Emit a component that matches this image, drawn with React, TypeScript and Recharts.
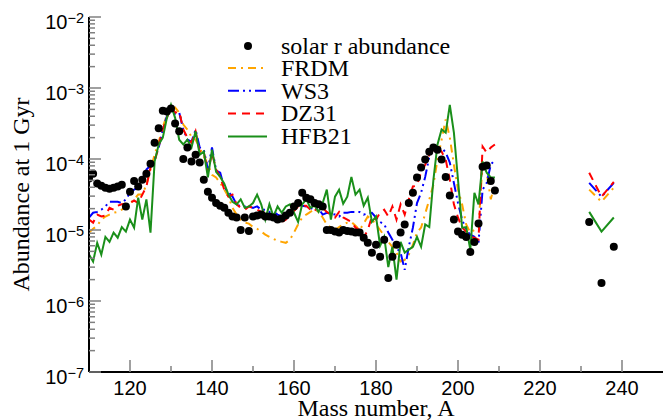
import React from 'react'
import { ComposedChart, Line, XAxis, YAxis } from 'recharts'

// mass numbers A; the models stop at 209 and come back for 232-238
const massNumbers = [
  110, 111, 112, 113, 114, 115, 116, 117, 118, 119,
  120, 121, 122, 123, 124, 125, 126, 127, 128, 129,
  130, 131, 132, 133, 134, 135, 136, 137, 138, 139,
  140, 141, 142, 143, 144, 145, 146, 147, 148, 149,
  150, 151, 152, 153, 154, 155, 156, 157, 158, 159,
  160, 161, 162, 163, 164, 165, 166, 167, 168, 169,
  170, 171, 172, 173, 174, 175, 176, 177, 178, 179,
  180, 181, 182, 183, 184, 185, 186, 187, 188, 189,
  190, 191, 192, 193, 194, 195, 196, 197, 198, 199,
  200, 201, 202, 203, 204, 205, 206, 207, 208, 209,
  232, 235, 238,
]

const solarR = [
  5.3e-5, 6.2e-5, 4.5e-5, 4.2e-5, 3.95e-5, 3.8e-5, 3.95e-5, 4.1e-5, 4.35e-5, 2.15e-5,
  3.45e-5, 4.9e-5, 4.1e-5, 5.1e-5, 6.2e-5, 8.6e-5, 1.7e-4, 2.7e-4, 4.8e-4, 4.65e-4,
  5.15e-4, 3.15e-4, 2.45e-4, 1.0e-4, 1.45e-4, 9.2e-5, 1.15e-4, 8.9e-5, 5.1e-5, 3.45e-5,
  2.85e-5, 2.4e-5, 2.2e-5, 2.05e-5, 1.75e-5, 1.55e-5, 1.5e-5, 1.0e-5, 1.5e-5, 9.7e-6,
  1.55e-5, 1.6e-5, 1.65e-5, 1.55e-5, 1.55e-5, 1.5e-5, 1.4e-5, 1.45e-5, 1.6e-5, 1.75e-5,
  2.15e-5, 2.4e-5, 3.35e-5, 2.85e-5, 2.7e-5, 2.4e-5, 2.3e-5, 2.15e-5, 1.0e-5, 1.0e-5,
  9.5e-6, 9.2e-6, 1.0e-5, 9.7e-6, 9.5e-6, 9.2e-6, 9.2e-6, 7.8e-6, 6.6e-6, 4.8e-6,
  6.2e-6, 4.2e-6, 7.3e-6, 2.1e-6, 4.2e-6, 6.2e-6, 9.2e-6, 1.2e-5, 2.4e-5, 3.35e-5,
  5.5e-5, 7.6e-5, 9.8e-5, 1.27e-4, 1.45e-4, 1.35e-4, 9.8e-5, 5.6e-5, 3.05e-5, 1.4e-5,
  9.5e-6, 8.6e-6, 8.0e-6, 4.9e-6, 6.8e-6, 1.23e-5, 7.8e-5, 8.1e-5, 4.9e-5, 3.6e-5,
  1.3e-5, 1.8e-6, 5.8e-6,
]

const frdm = [
  9.2e-6, 1.04e-5, 1.15e-5, 1.4e-5, 1.55e-5, 1.65e-5, 1.75e-5, 1.8e-5, 1.93e-5, 2.15e-5,
  2.35e-5, 2.7e-5, 3.15e-5, 3.15e-5, 4.35e-5, 7.1e-5, 1.15e-4, 1.75e-4, 2.8e-4, 4.2e-4,
  5.0e-4, 5.3e-4, 4.5e-4, 3.05e-4, 2.6e-4, 2.05e-4, 1.87e-4, 1.45e-4, 1.08e-4, 8.3e-5,
  6.0e-5, 5.5e-5, 4.6e-5, 3.7e-5, 2.95e-5, 2.05e-5, 1.65e-5, 1.4e-5, 1.27e-5, 1.23e-5,
  1.1e-5, 1.04e-5, 9.5e-6, 8.6e-6, 8.0e-6, 7.5e-6, 7.0e-6, 6.8e-6, 6.6e-6, 7.3e-6,
  9.2e-6, 1.2e-5, 1.5e-5, 1.65e-5, 1.8e-5, 1.93e-5, 1.8e-5, 1.5e-5, 1.2e-5, 1.08e-5,
  1.0e-5, 1.1e-5, 1.2e-5, 1.27e-5, 1.3e-5, 1.15e-5, 1.0e-5, 1.23e-5, 1.55e-5, 1.4e-5,
  1.2e-5, 1.0e-5, 8.3e-6, 6.8e-6, 5.8e-6, 4.8e-6, 3.6e-6, 3.8e-6, 4.5e-6, 6.2e-6,
  9.2e-6, 1.08e-5, 1.7e-5, 2.7e-5, 4.35e-5, 9.8e-5, 1.87e-4, 3.6e-4, 2.0e-4, 8.3e-5,
  3.7e-5, 2.3e-5, 1.2e-5, 9.2e-6, 1.0e-5, 1.08e-5, 8.9e-5, 6.4e-5, 2.7e-5, 4.6e-5,
  3.7e-5, 2.5e-5, 3.95e-5,
]

const ws3 = [
  1.5e-5, 1.75e-5, 1.8e-5, 1.93e-5, 2.15e-5, 2.5e-5, 2.5e-5, 2.5e-5, 2.4e-5, 2.7e-5,
  3.35e-5, 3.7e-5, 3.95e-5, 4.6e-5, 7.1e-5, 8.1e-5, 9.8e-5, 1.45e-4, 2.6e-4, 4.0e-4,
  5.3e-4, 4.35e-4, 4.5e-4, 2.6e-4, 1.87e-4, 1.75e-4, 2.6e-4, 1.45e-4, 1.35e-4, 7.1e-5,
  1.45e-4, 6.9e-5, 6.4e-5, 3.95e-5, 3.45e-5, 2.95e-5, 2.3e-5, 2.15e-5, 2.15e-5, 2.15e-5,
  2.05e-5, 2.15e-5, 1.93e-5, 1.93e-5, 1.8e-5, 1.8e-5, 1.65e-5, 1.55e-5, 1.7e-5, 1.93e-5,
  2.15e-5, 2.3e-5, 2.2e-5, 2.15e-5, 2.05e-5, 1.93e-5, 2.0e-5, 1.65e-5, 1.75e-5, 1.7e-5,
  1.65e-5, 1.55e-5, 1.75e-5, 1.75e-5, 1.8e-5, 1.8e-5, 1.8e-5, 1.65e-5, 1.7e-5, 1.75e-5,
  1.5e-5, 1.3e-5, 1.2e-5, 9.2e-6, 7.3e-6, 5.6e-6, 4.8e-6, 2.75e-6, 5.8e-6, 1.08e-5,
  2.4e-5, 3.35e-5, 5.6e-5, 1.08e-4, 1.5e-4, 1.35e-4, 1.45e-4, 1.23e-4, 8.9e-5, 4.6e-5,
  2.4e-5, 1.4e-5, 1.0e-5, 8.6e-6, 8.0e-6, 6.6e-6, 3.7e-5, 4.6e-5, 8.3e-5, 9.8e-5,
  4.6e-5, 2.95e-5, 4.6e-5,
]

const dz31 = [
  1.4e-5, 1.27e-5, 1.65e-5, 1.55e-5, 1.6e-5, 2.05e-5, 1.93e-5, 2.2e-5, 2.3e-5, 2.35e-5,
  2.4e-5, 2.6e-5, 2.4e-5, 3.15e-5, 4.1e-5, 7.6e-5, 9.2e-5, 1.5e-4, 2.6e-4, 3.8e-4,
  5.5e-4, 4.5e-4, 4.65e-4, 2.6e-4, 2.0e-4, 1.7e-4, 2.45e-4, 1.27e-4, 1.27e-4, 6.4e-5,
  1.23e-4, 7.1e-5, 5.6e-5, 3.7e-5, 2.95e-5, 3.15e-5, 2.3e-5, 2.05e-5, 1.93e-5, 2.15e-5,
  2.05e-5, 1.93e-5, 1.8e-5, 1.75e-5, 1.65e-5, 1.55e-5, 1.4e-5, 1.3e-5, 1.4e-5, 1.65e-5,
  1.85e-5, 2.15e-5, 2.2e-5, 2.2e-5, 1.93e-5, 1.8e-5, 2.3e-5, 2.05e-5, 1.8e-5, 1.65e-5,
  1.5e-5, 1.8e-5, 1.5e-5, 1.4e-5, 1.3e-5, 1.08e-5, 1.0e-5, 7.8e-6, 1.0e-5, 1.55e-5,
  1.4e-5, 1.75e-5, 1.93e-5, 1.55e-5, 2.15e-5, 1.4e-5, 2.3e-5, 1.65e-5, 2.7e-5, 4.1e-5,
  4.2e-5, 6.6e-5, 8.3e-5, 1.15e-4, 1.35e-4, 1.45e-4, 1.27e-4, 9.8e-5, 5.1e-5, 2.3e-5,
  1.5e-5, 1.08e-5, 9.5e-6, 8.0e-6, 7.8e-6, 7.3e-6, 1.5e-4, 1.23e-4, 1.45e-4, 1.6e-4,
  6.4e-5, 2.95e-5, 4.75e-5,
]

const hfb21 = [
  4.5e-6, 3.6e-6, 6.6e-6, 4.5e-6, 8.0e-6, 6.8e-6, 9.2e-6, 7.8e-6, 1.1e-5, 9.5e-6,
  1.4e-5, 1.08e-5, 2.85e-5, 1.4e-5, 2.7e-5, 9.2e-6, 9.2e-5, 1.6e-4, 2.0e-4, 3.8e-4,
  5.8e-4, 3.8e-4, 1.87e-4, 1.6e-4, 1.87e-4, 1.45e-4, 2.45e-4, 1.15e-4, 1.27e-4, 5.5e-5,
  1.35e-4, 6.6e-5, 5.6e-5, 4.5e-5, 3.15e-5, 2.5e-5, 2.3e-5, 2.7e-5, 2.05e-5, 2.15e-5,
  2.4e-5, 3.15e-5, 2.3e-5, 1.4e-5, 2.3e-5, 1.55e-5, 2.15e-5, 1.75e-5, 2.15e-5, 2.3e-5,
  1.75e-5, 1.3e-5, 2.3e-5, 2.7e-5, 2.05e-5, 2.2e-5, 1.8e-5, 2.4e-5, 3.7e-5, 1.4e-5,
  2.95e-5, 3.7e-5, 2.35e-5, 2.95e-5, 5.6e-5, 3.15e-5, 3.7e-5, 2.2e-5, 2.85e-5, 1.3e-5,
  1.55e-5, 6.0e-6, 8.0e-6, 3.0e-6, 5.8e-6, 2.0e-6, 6.8e-6, 4.8e-6, 5.3e-6, 5.8e-6,
  8.0e-6, 5.8e-6, 1.2e-5, 1.1e-5, 5.1e-5, 1.6e-4, 2.6e-4, 2.35e-4, 5.8e-4, 2.35e-4,
  5.1e-5, 1.08e-5, 1.1e-5, 5.3e-6, 3.35e-5, 2.3e-5, 9.2e-5, 6.4e-5, 5.5e-5, 5.5e-5,
  1.8e-5, 9.5e-6, 1.5e-5,
]

const xTicks = [120, 130, 140, 150, 160, 170, 180, 190, 200, 210, 220, 230, 240]
const decades = [1e-7, 1e-6, 1e-5, 1e-4, 1e-3, 1e-2]
const yTicks = decades.flatMap(d =>
  d === 1e-2 ? [d] : [1, 2, 3, 4, 5, 6, 7, 8, 9].map(m => m * d)
)

// break the lines between 209 and 232
const rows: Record<string, number | null>[] = []
massNumbers.forEach((A, i) => {
  if (i > 0 && A - massNumbers[i - 1] > 5) {
    rows.push({ A: (A + massNumbers[i - 1]) / 2, solar: null, frdm: null, ws3: null, dz31: null, hfb21: null })
  }
  rows.push({ A, solar: solarR[i], frdm: frdm[i], ws3: ws3[i], dz31: dz31[i], hfb21: hfb21[i] })
})

const TICK = '#808080'
const sans = { fontFamily: 'Liberation Sans, Arial, Helvetica, sans-serif' }
const serif = { fontFamily: 'Liberation Serif, Times New Roman, Times, DejaVu Serif, serif' }

const isDecade = (v: number) => decades.some(d => Math.abs(v / d - 1) < 1e-9)

function BottomTick({ x, y, payload }: any) {
  const major = payload.value % 20 === 0
  return (
    <g>
      <line x1={x} x2={x} y1={y} y2={y - (major ? 12 : 6)} stroke={TICK} strokeWidth={1.5} />
      {major && (
        <text x={x} y={y + 23} textAnchor="middle" style={sans} fontSize={20} fill="#000">
          {payload.value}
        </text>
      )}
    </g>
  )
}

function TopTick({ x, y, payload }: any) {
  const major = payload.value % 20 === 0
  return <line x1={x} x2={x} y1={y} y2={y + (major ? 12 : 6)} stroke={TICK} strokeWidth={1.5} />
}

function LeftTick({ x, y, payload }: any) {
  const major = isDecade(payload.value)
  const exp = Math.round(Math.log10(payload.value))
  return (
    <g>
      <line x1={x} x2={x + (major ? 12 : 6)} y1={y} y2={y} stroke={TICK} strokeWidth={1.5} />
      {major && (
        <text x={x - 5} y={y + 11.5} textAnchor="end" style={sans} fontSize={20} fill="#000">
          <tspan>10</tspan>
          <tspan dy={-6} fontSize={14.5}>{'\u2212' + Math.abs(exp)}</tspan>
        </text>
      )}
    </g>
  )
}

function RightTick({ x, y, payload }: any) {
  const major = isDecade(payload.value)
  return <line x1={x} x2={x - (major ? 12 : 6)} y1={y} y2={y} stroke={TICK} strokeWidth={1.5} />
}

const series = [
  { key: 'frdm', name: 'FRDM', color: '#ffa500', dash: '8 5 2 5' },
  { key: 'ws3', name: 'WS3', color: '#0000ff', dash: '11 4 2 4 2 4' },
  { key: 'dz31', name: 'DZ31', color: '#ff0000', dash: '8 6' },
  { key: 'hfb21', name: 'HFB21', color: '#1a8f1a', dash: undefined },
]

const axisLine = { stroke: '#000', strokeWidth: 2 }

export default function App() {
  return (
    <div style={{ position: 'absolute', left: 0, top: 0, width: 672, height: 420, background: '#fff' }}>
      <ComposedChart width={672} height={420} data={rows} margin={{ top: 17, right: 9, bottom: 0, left: 0 }}>
        <XAxis
          dataKey="A"
          type="number"
          domain={[110, 250]}
          ticks={xTicks}
          interval={0}
          allowDataOverflow
          height={48}
          tickSize={0}
          tickMargin={0}
          axisLine={axisLine}
          tick={<BottomTick />}
        />
        <XAxis
          xAxisId="top"
          orientation="top"
          dataKey="A"
          type="number"
          domain={[110, 250]}
          ticks={xTicks}
          interval={0}
          allowDataOverflow
          height={0}
          tickSize={0}
          tickMargin={0}
          axisLine={axisLine}
          tick={<TopTick />}
        />
        <YAxis
          type="number"
          scale="log"
          domain={[1e-7, 1e-2]}
          ticks={yTicks}
          interval={0}
          allowDataOverflow
          width={89}
          tickSize={0}
          tickMargin={0}
          axisLine={axisLine}
          tick={<LeftTick />}
        />
        <YAxis
          yAxisId="right"
          orientation="right"
          type="number"
          scale="log"
          domain={[1e-7, 1e-2]}
          ticks={yTicks}
          interval={0}
          allowDataOverflow
          width={0}
          tickSize={0}
          tickMargin={0}
          axisLine={axisLine}
          tick={<RightTick />}
        />
        <Line
          dataKey="solar"
          stroke="none"
          dot={{ r: 4, fill: '#000', stroke: 'none' }}
          activeDot={false}
          isAnimationActive={false}
        />
        {series.map(s => (
          <Line
            key={s.key}
            dataKey={s.key}
            type="linear"
            stroke={s.color}
            strokeWidth={2}
            strokeDasharray={s.dash}
            dot={false}
            activeDot={false}
            isAnimationActive={false}
          />
        ))}
      </ComposedChart>

      <svg width={672} height={420} style={{ position: 'absolute', left: 0, top: 0, pointerEvents: 'none' }}>
        <text x={376} y={416} textAnchor="middle" style={serif} fontSize={24} fill="#000">
          Mass number, A
        </text>
        <text
          x={29}
          y={194.5}
          textAnchor="middle"
          style={serif}
          fontSize={24}
          fill="#000"
          transform="rotate(-90 29 194.5)"
        >
          Abundance at 1 Gyr
        </text>
        <circle cx={248} cy={46} r={4} fill="#000" />
        <text x={281} y={53.5} style={serif} fontSize={24} fill="#000">solar r abundance</text>
        {series.map((s, i) => (
          <g key={s.key}>
            <line
              x1={228}
              x2={267}
              y1={68 + i * 22.8}
              y2={68 + i * 22.8}
              stroke={s.color}
              strokeWidth={2}
              strokeDasharray={s.dash}
            />
            <text x={281} y={76 + i * 22.6} style={serif} fontSize={24} fill="#000">{s.name}</text>
          </g>
        ))}
      </svg>
    </div>
  )
}
